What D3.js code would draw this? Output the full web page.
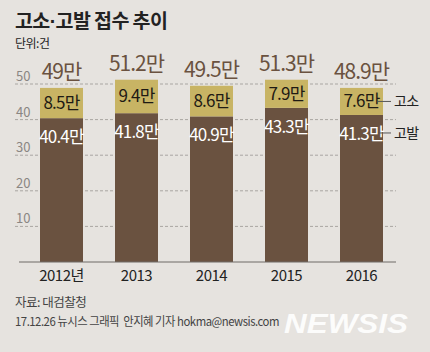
<!DOCTYPE html>
<html><head><meta charset="utf-8">
<script src="https://cdn.jsdelivr.net/npm/d3@7"></script>
<style>
body{margin:0;background:#e6e3df;}
svg{display:block;}
.num{font-family:"Liberation Sans Narrow","Noto Sans CJK KR",sans-serif;}
.kr{font-family:"Noto Sans CJK KR",sans-serif;}
</style></head>
<body><svg id="c" width="430" height="352"></svg>
<script>
const years = ["2012년","2013","2014","2015","2016"];
const gobal = [40.4, 41.8, 40.9, 43.3, 41.3];   // 고발
const goso = [8.5, 9.4, 8.6, 7.9, 7.6];        // 고소
const totals = ["49", "51.2", "49.5", "51.3", "48.9"];
const yTicks = [10, 20, 30, 40, 50];

const svg = d3.select("#c");
svg.append("rect").attr("width",430).attr("height",352).attr("fill","#e6e3df");

const x = d3.scaleBand().domain(years).range([8,415]).paddingInner(0.4267).paddingOuter(0.4267);
const y = d3.scaleLinear().domain([0,50]).range([262,84]);

// title
const title = svg.append("text").attr("class","kr").attr("x",15).attr("y",28)
  .attr("font-size",19.5).attr("font-weight",700).attr("fill","#222").attr("letter-spacing",-0.6);
title.append("tspan").text("고소");
title.append("tspan").attr("font-family","Liberation Sans, sans-serif").attr("dx",0).text("·");
title.append("tspan").text("고발 접수 추이");
svg.append("text").attr("class","kr").attr("x",15).attr("y",48)
  .attr("font-size",12).attr("fill","#222").attr("letter-spacing",-0.5).text("단위:건");

// grid
const g = svg.append("g");
yTicks.forEach(t=>{
  g.append("line").attr("x1",15).attr("x2",396).attr("y1",y(t)).attr("y2",y(t))
   .attr("stroke","#a9a6a2").attr("stroke-width",1).attr("stroke-dasharray","3,2");
  g.append("text").attr("class","num").attr("x",16).attr("y",y(t)-3)
   .attr("font-size",13).attr("fill","#8a8683").text(t);
});

// bars
const bw = x.bandwidth();
years.forEach((yr,i)=>{
  const x0 = x(yr), cx = x0 + bw/2;
  svg.append("rect").attr("x",x0).attr("y",y(gobal[i])).attr("width",bw)
    .attr("height",y(0)-y(gobal[i])).attr("fill","#6a5240");
  svg.append("rect").attr("x",x0).attr("y",y(gobal[i]+goso[i])).attr("width",bw)
    .attr("height",y(gobal[i])-y(gobal[i]+goso[i])).attr("fill","#c8b464");
  svg.append("text").attr("class","num").attr("x",cx).attr("y",y(gobal[i])+25)
    .attr("text-anchor","middle").attr("font-size",17).attr("fill","#fff").attr("letter-spacing",-0.8)
    .text(gobal[i].toFixed(1)+"만");
  svg.append("text").attr("class","num").attr("x",cx).attr("y",(y(gobal[i])+y(gobal[i]+goso[i]))/2+6)
    .attr("text-anchor","middle").attr("font-size",17).attr("fill","#1e1a14").attr("letter-spacing",-0.8)
    .text(goso[i].toFixed(1)+"만");
  svg.append("text").attr("class","num").attr("x",cx).attr("y",y(gobal[i]+goso[i])-9)
    .attr("text-anchor","middle").attr("font-size",21).attr("fill","#6a5240").attr("letter-spacing",-1)
    .text(totals[i]+"만");
  svg.append("text").attr("class","num").attr("x",cx).attr("y",281)
    .attr("text-anchor","middle").attr("font-size",15).attr("fill","#222").attr("letter-spacing",-0.5)
    .text(yr);
});

// axis line
svg.append("line").attr("x1",19).attr("x2",396).attr("y1",y(0)).attr("y2",y(0))
  .attr("stroke","#6e6a66").attr("stroke-width",1);

// legend
const last = years[years.length-1];
const lx = x(last)+bw;
const yGoso = (y(gobal[4])+y(gobal[4]+goso[4]))/2;
const yGobal = y(gobal[4])+18;
[[yGoso,"고소"],[yGobal,"고발"]].forEach(([yy,t])=>{
  svg.append("line").attr("x1",lx-5).attr("x2",lx+8).attr("y1",yy).attr("y2",yy)
    .attr("stroke","#555").attr("stroke-width",1);
  svg.append("text").attr("class","kr").attr("x",lx+11).attr("y",yy+5)
    .attr("font-size",14).attr("fill","#222").attr("letter-spacing",-0.5).text(t);
});

// footer
svg.append("text").attr("class","kr").attr("x",15).attr("y",307)
  .attr("font-size",12.5).attr("fill","#444").attr("letter-spacing",-0.5).text("자료: 대검찰청");
svg.append("text").attr("class","num").attr("x",15).attr("y",326)
  .attr("font-size",12).attr("fill","#444").attr("letter-spacing",-0.5)
  .style("white-space","pre")
  .attr("textLength",264).attr("lengthAdjust","spacingAndGlyphs")
  .text("17.12.26 뉴시스 그래픽  안지혜 기자 hokma@newsis.com");
svg.append("text").attr("x",284).attr("y",333)
  .attr("font-family","Liberation Sans, sans-serif").attr("font-size",28).attr("font-weight",700)
  .attr("font-style","italic").attr("fill","#ffffff").attr("opacity",0.9)
  .attr("textLength",124).attr("lengthAdjust","spacingAndGlyphs").text("NEWSIS");
</script></body></html>
